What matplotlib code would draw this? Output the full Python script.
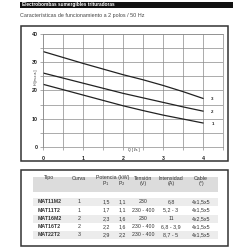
import matplotlib
matplotlib.use("Agg")
import matplotlib.pyplot as plt
from matplotlib import patches

plt.rcParams['font.family'] = ['Liberation Sans', 'DejaVu Sans']

# chart data
q_values = [0, 0.5, 1, 1.5, 2, 2.5, 3, 3.5, 4]
curve_3 = [33.8, 31.7, 29.6, 27.6, 25.6, 23.8, 21.8, 19.6, 17.2]
curve_2 = [26.2, 24.4, 22.6, 20.8, 19.0, 17.4, 15.8, 14.2, 12.7]
curve_1 = [22.2, 20.3, 18.4, 16.5, 14.6, 12.9, 11.3, 9.9, 8.5]
curve_names = ['1', '2', '3']
x_ticks = [0, 1, 2, 3, 4]
y_ticks = [0, 10, 20, 30, 40]

# table data
tipos = ['MAT11M2', 'MAT11T2', 'MAT16M2', 'MAT16T2', 'MAT22T2']
curvas = ['1', '1', '2', '2', '3']
potencia_p1 = ['1,5', '1,7', '2,3', '2,2', '2,9']
potencia_p2 = ['1,1', '1,1', '1,6', '1,6', '2,2']
tensiones = ['230', '230 - 400', '230', '230 - 400', '230 - 400']
intensidades = ['6,8', '5,2 - 3', '11', '6,8 - 3,9', '8,7 - 5']
cables = ['4x1,5x5', '4x1,5x5', '4x2,5x5', '4x1,5x5', '4x1,5x5']

W = H = 250


def fx(px):
    return px / W


def fy(py):
    return 1 - py / H


fig = plt.figure(figsize=(2.5, 2.5), dpi=100)
fig.patch.set_facecolor('white')

# black title bar
fig.add_artist(patches.Rectangle((fx(20), fy(7.5)), fx(213), 5.5 / H,
                                 transform=fig.transFigure, color='#111111', lw=0))
fig.text(fx(22), fy(4.8), 'Electrobombas sumergibles trituradoras', color='white',
         fontsize=3.4, fontweight='bold', va='center', ha='left')
fig.text(fx(20), fy(16), 'Características de funcionamiento a 2 polos / 50 Hz',
         color='#444444', fontsize=3.9, va='center', ha='left')

# frames round chart and table
for top, bottom in [(26, 161), (170, 246)]:
    fig.add_artist(patches.Rectangle((fx(21), fy(bottom)), fx(228 - 21), (bottom - top) / H,
                                     transform=fig.transFigure, fill=False,
                                     edgecolor='#333333', lw=1.1))

# chart
ax = fig.add_axes([fx(43), fy(147), fx(223 - 43), (147 - 34) / H])
ax.set_xlim(0, 4.5)
ax.set_ylim(0, 40)
ax.set_xticks([i * 0.5 for i in range(10)], minor=False)
ax.set_yticks([i * 5 for i in range(9)])
ax.grid(True, color='#8a8a8a', lw=0.5)
ax.set_xticklabels(['' if t % 1 else str(int(t)) for t in ax.get_xticks()])
ax.set_yticklabels(['' if t % 10 else str(int(t)) for t in ax.get_yticks()])
ax.tick_params(length=2.2, width=0.5, color='#8a8a8a', pad=1.5,
               labelsize=3.8, labelcolor='#222222')
for lab in ax.get_xticklabels() + ax.get_yticklabels():
    lab.set_fontweight('bold')
ax.tick_params(axis='x', pad=4)
for sp in ax.spines.values():
    sp.set_color('#8a8a8a')
    sp.set_linewidth(0.5)

for ys in [curve_1, curve_2, curve_3]:
    ax.plot(q_values, ys, color='#222222', lw=0.9)
for name, ys in zip(curve_names, [curve_1, curve_2, curve_3]):
    ax.annotate(name, (q_values[-1], ys[-1]), xytext=(6, -0.5), textcoords='offset points',
                fontsize=3.2, fontweight='bold', color='#222222', va='center', ha='left')

fig.text(fx(128), fy(149.5), 'Q [ l/s ]', fontsize=2.6, color='#222222', va='center', ha='left')
fig.text(fx(35.5), fy(77), 'H [m.c.a.]', fontsize=2.6, color='#222222', va='center',
         ha='center', rotation=90)

# table
fig.add_artist(patches.Rectangle((fx(33), fy(192)), fx(218 - 33), 15 / H,
                                 transform=fig.transFigure, color='#dcdcdc', lw=0))
row_y = [201.5, 210, 218.5, 227, 235]
for i, y in enumerate(row_y):
    if i % 2 == 0:
        fig.add_artist(patches.Rectangle((fx(33), fy(y + 4)), fx(218 - 33), 8 / H,
                                         transform=fig.transFigure, color='#ececec', lw=0))

hs = dict(fontsize=3.8, color='#333333', ha='center', va='center')
fig.text(fx(49), fy(178), 'Tipo', **hs)
fig.text(fx(79), fy(178), 'Curva', **hs)
fig.text(fx(113), fy(178), 'Potencia (kW)', **hs)
fig.text(fx(106), fy(184), 'P$_1$', **hs)
fig.text(fx(122), fy(184), 'P$_2$', **hs)
fig.text(fx(143), fy(178), 'Tensión', **hs)
fig.text(fx(143), fy(184), '(V)', **hs)
fig.text(fx(171), fy(178), 'Intensidad', **hs)
fig.text(fx(171), fy(184), '(A)', **hs)
fig.text(fx(201), fy(178), 'Cable', **hs)
fig.text(fx(201), fy(184), '(*)', **hs)

cs = dict(fontsize=3.8, color='#333333', ha='center', va='center')
for i, y in enumerate(row_y):
    fig.text(fx(38), fy(y), tipos[i], fontsize=3.8, fontweight='bold', color='#333333',
             ha='left', va='center')
    fig.text(fx(79), fy(y), curvas[i], **cs)
    fig.text(fx(106), fy(y), potencia_p1[i], **cs)
    fig.text(fx(122), fy(y), potencia_p2[i], **cs)
    fig.text(fx(143), fy(y), tensiones[i], **cs)
    fig.text(fx(171), fy(y), intensidades[i], **cs)
    fig.text(fx(201), fy(y), cables[i], **cs)

fig.savefig('out.png', dpi=100)
